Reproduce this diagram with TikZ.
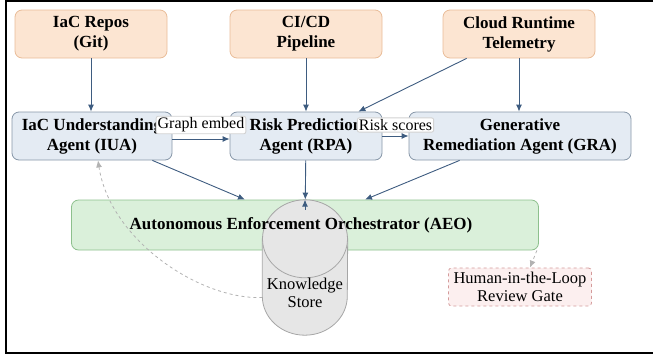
\documentclass[tikz,border=0pt]{standalone}
\usepackage{fontspec}
\setmainfont{Liberation Serif}[BoldFont={Liberation Serif Bold}]
\usepackage{xcolor}
\usetikzlibrary{arrows.meta}

\definecolor{srcfill}{HTML}{FCE5D2}
\definecolor{srcline}{HTML}{E9BC98}
\definecolor{agentfill}{HTML}{E4EBF3}
\definecolor{agentline}{HTML}{8797A8}
\definecolor{aeofill}{HTML}{DAF0DA}
\definecolor{aeoline}{HTML}{8DC08D}
\definecolor{gatefill}{HTML}{FCEFEF}
\definecolor{gateline}{HTML}{D49A9A}
\definecolor{storefill}{HTML}{E6E6E6}
\definecolor{storeline}{HTML}{A6A6A6}
\definecolor{flow}{HTML}{3E5C80}

\begin{document}
\begin{tikzpicture}[x=1pt, y=-1pt,
    >={Latex[length=7pt,width=6pt]},
    src/.style={draw=srcline, fill=srcfill, rounded corners=7pt, line width=0.8pt, minimum width=152pt, minimum height=48pt, align=center, font=\fontsize{17}{20}\selectfont\bfseries},
    agent/.style={draw=agentline, fill=agentfill, rounded corners=7pt, line width=0.8pt, minimum height=48pt, align=center, font=\fontsize{17}{20}\selectfont\bfseries},
    aeobox/.style={draw=aeoline, fill=aeofill, rounded corners=7pt, line width=0.8pt, minimum width=467pt, minimum height=50pt},
    storebox/.style={minimum width=85pt, minimum height=135pt, inner sep=0pt},
    storeskin/.style={draw=storeline, fill=storefill, line width=0.8pt},
    gate/.style={draw=gateline, fill=gatefill, dashed, rounded corners=3pt, line width=0.8pt, minimum width=143pt, minimum height=38pt, align=center, font=\fontsize{16.5}{18}\selectfont},
    tag/.style={fill=white, draw=gray!35, rounded corners=2pt, inner sep=1.5pt, font=\fontsize{16}{17}\selectfont},
    flowline/.style={->, draw=flow, line width=0.9pt},
    backline/.style={->, draw=gray!60, dashed, line width=0.8pt}]
    \useasboundingbox (0,0) rectangle (653,360);
    \draw[line width=2pt] (656,1) -- (6,1) -- (6,353) -- (656,353);

    % sources
    \node[src] (repos) at (91,34) {IaC Repos\\(Git)};
    \node[src] (cicd) at (306,34) {CI/CD\\Pipeline};
    \node[src] (cloud) at (519,34) {Cloud Runtime\\Telemetry};

    % agents
    \node[agent, minimum width=160pt] (iua) at (92,136) {IaC Understanding\\Agent (IUA)};
    \node[agent, minimum width=152pt] (rpa) at (306,136) {Risk Prediction\\Agent (RPA)};
    \node[agent, minimum width=222pt] (gra) at (520,136) {Generative\\Remediation Agent (GRA)};

    % orchestrator and store
    \node[aeobox] (aeo) at (305,225) {};
    \node[storebox] (store) at (305,267.5) {};
    \path[storeskin] ([yshift=-39pt]store.north west) -- ([yshift=39pt]store.south west)
        arc (180:360:42.5pt and 39pt) -- ([yshift=-39pt]store.north east) -- cycle;
    \path[storeskin] ([yshift=-39pt]store.north) ellipse (42.5pt and 39pt);
    \node[font=\fontsize{17}{20}\selectfont\bfseries] (aeotext) at (301,225) {Autonomous Enforcement Orchestrator (AEO)};
    \node[align=center, font=\fontsize{16.5}{18}\selectfont] (storetext) at (305,293) {Knowledge\\Store};
    \node[gate] (gate) at (520,287) {Human-in-the-Loop\\Review Gate};

    \draw[flowline] (repos.south) -- (repos.south |- iua.north);
    \draw[flowline] (cicd) -- (rpa);
    \draw[flowline] (cloud.south) -- (cloud.south |- gra.north);
    \draw[flowline] ([xshift=24pt]cloud.south west) -- ([xshift=-24pt]rpa.north east);
    \draw[flowline] ([yshift=-3pt]iua.east) -- node[tag, yshift=14pt] {Graph embed} ([yshift=-3pt]rpa.west);
    \draw[flowline] (rpa) -- node[tag, yshift=11pt] {Risk scores} (gra);
    \draw[flowline] ([xshift=-20pt]iua.south east) -- ([xshift=-60pt]aeo.north);
    \draw[flowline] (rpa) -- (aeo);
    \draw[flowline] ([xshift=51pt]gra.south west) -- ([xshift=60pt]aeo.north);
    \draw[flowline, shorten <=58pt] (store.center) -- (aeo.north);
    \draw[backline] ([yshift=-30pt]store.west) .. controls (200,300) and (110,240) .. ([xshift=6pt]iua.south);
    \draw[backline] ([xshift=-2pt]aeo.south east) -- ([xshift=10pt]gate.north);
\end{tikzpicture}
\end{document}
